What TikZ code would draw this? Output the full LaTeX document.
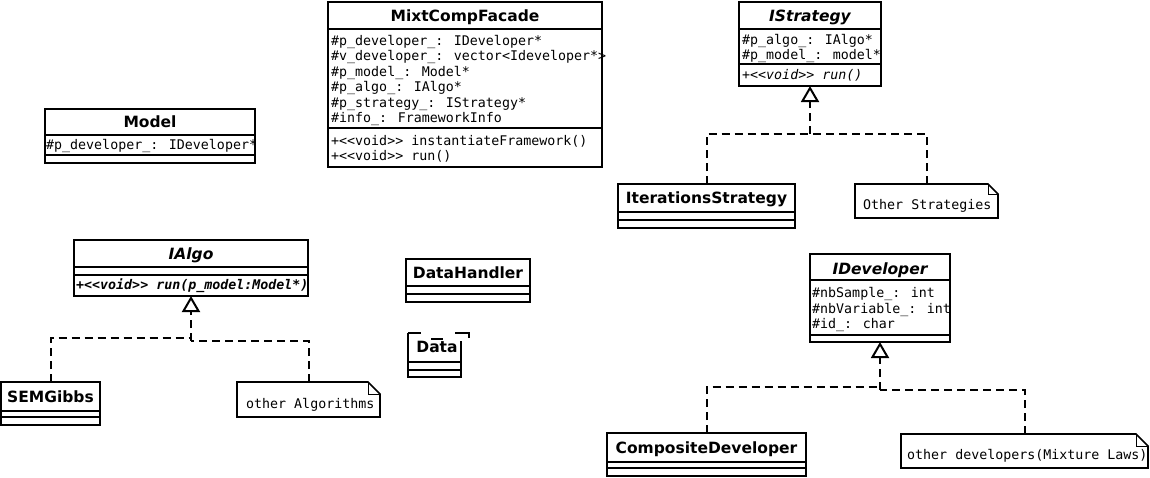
\documentclass[tikz,border=0pt]{standalone}
\usepackage{fontspec}
\usetikzlibrary{arrows.meta,calc}
\newfontfamily\headfam{DejaVu Sans}
\newfontfamily\codefam{DejaVu Sans Mono}
% stereotype brackets, kept apart so no guillemet mapping applies
\newcommand\stlt{<\kern0pt<}
\newcommand\stgt{>\kern0pt>}
% horizontal compartment line across a class frame
\newcommand\compsep[2]{\draw[sep] (#1.west |- 0,#2) -- (#1.east |- 0,#2);}
% UML note outline with a folded corner
\newcommand\notefold[2]{%
  \draw[noteline] (#1.north west) -- ($(#1.north east)+(-#2,0)$) -- ($(#1.north east)+(0,#2)$) -- (#1.south east) -- (#1.south west) -- cycle;
  \draw[foldline] ($(#1.north east)+(-#2,0)$) -- ($(#1.north east)+(-#2,#2)$) -- ($(#1.north east)+(0,#2)$);}
\begin{document}
\begin{tikzpicture}[x=1pt,y=-1pt,
  frame/.style={draw, line width=2pt, inner sep=0pt, outer sep=0pt, anchor=north west},
  holder/.style={inner sep=0pt, outer sep=0pt, anchor=north west},
  sep/.style={line width=2pt},
  noteline/.style={line width=1.7pt},
  foldline/.style={line width=1pt},
  ctitle/.style={font=\headfam\bfseries\fontsize{15.5}{18}\selectfont, inner sep=0pt, anchor=base},
  atitle/.style={font=\headfam\bfseries\itshape\fontsize{15.5}{18}\selectfont, inner sep=0pt, anchor=base},
  member/.style={font=\codefam\fontsize{13.3}{15}\selectfont, inner sep=0pt, anchor=base west},
  realize/.style={line width=2pt, dash pattern=on 8pt off 5pt},
  hollow/.style={-{Triangle[open, length=16pt, width=18pt]}},
]
\useasboundingbox (0,0) rectangle (1150,477);

% ---------- Model ----------
\node[frame, minimum width=210pt, minimum height=54pt] (model) at (45,109) {};
\compsep{model}{135} \compsep{model}{155}
\node[ctitle] (modelT) at (150,127.5) {Model};
\node[member] (modelA) at (46,149.5) {\#p\_developer\_: IDeveloper*};

% ---------- MixtCompFacade ----------
\node[frame, minimum width=274pt, minimum height=165pt] (facade) at (328,2) {};
\compsep{facade}{29} \compsep{facade}{128}
\node[ctitle] (facadeT) at (465,21) {MixtCompFacade};
\node[member] (fa1) at (331,45) {\#p\_developer\_: IDeveloper*};
\node[member] (fa2) at (331,60) {\#v\_developer\_: vector<Ideveloper*>};
\node[member] (fa3) at (331,76) {\#p\_model\_: Model*};
\node[member] (fa4) at (331,91) {\#p\_algo\_: IAlgo*};
\node[member] (fa5) at (331,107) {\#p\_strategy\_: IStrategy*};
\node[member] (fa6) at (331,122) {\#info\_: FrameworkInfo};
\node[member] (fo1) at (331,145) {+\stlt void\stgt{} instantiateFramework()};
\node[member] (fo2) at (331,160) {+\stlt void\stgt{} run()};

% ---------- IStrategy ----------
\node[frame, minimum width=142pt, minimum height=84pt] (istrat) at (739,2) {};
\compsep{istrat}{29} \compsep{istrat}{64}
\node[atitle] (istratT) at (810,21) {IStrategy};
\node[member] (sa1) at (742,44) {\#p\_algo\_: IAlgo*};
\node[member] (sa2) at (742,59) {\#p\_model\_: model*};
\node[member] (so1) at (742,79.5) {+\textit{\stlt void\stgt{} run()}};

% ---------- IterationsStrategy ----------
\node[frame, minimum width=177pt, minimum height=44pt] (iter) at (618,184) {};
\compsep{iter}{212} \compsep{iter}{220}
\node[ctitle] (iterT) at (706.5,203.5) {IterationsStrategy};

% ---------- note: Other Strategies ----------
\node[holder, minimum width=143pt, minimum height=34pt] (nstrat) at (855,184) {};
\notefold{nstrat}{10}
\node[member] (nstratT) at (863,209) {Other Strategies};

% ---------- IAlgo ----------
\node[frame, minimum width=234pt, minimum height=56pt] (ialgo) at (74,240) {};
\compsep{ialgo}{267} \compsep{ialgo}{275}
\node[atitle] (ialgoT) at (191,259) {IAlgo};
\node[member, font=\codefam\bfseries\itshape\fontsize{13.3}{15}\selectfont] (ao1) at (76,289) {+\stlt void\stgt{} run(p\_model:Model*)};

% ---------- SEMGibbs ----------
\node[frame, minimum width=99pt, minimum height=43pt] (sem) at (1,382) {};
\compsep{sem}{411} \compsep{sem}{417}
\node[ctitle] (semT) at (50.5,402) {SEMGibbs};

% ---------- note: other Algorithms ----------
\node[holder, minimum width=143pt, minimum height=35pt] (nalgo) at (237,382) {};
\notefold{nalgo}{12}
\node[member] (nalgoT) at (246,408) {other Algorithms};

% ---------- DataHandler ----------
\node[frame, minimum width=124pt, minimum height=43pt] (dh) at (406,259) {};
\compsep{dh}{286} \compsep{dh}{294}
\node[ctitle] (dhT) at (468,278) {DataHandler};

% ---------- Data (frame with broken top edge) ----------
\node[holder, minimum width=53pt, minimum height=44pt] (data) at (408,333) {};
\draw[sep] (data.north west) -- (data.south west) -- (data.south east) -- (461,341);
\draw[sep] (data.north west) -- (421,333);
\draw[sep] (455,333) -- (469,333) -- (469,338);
\compsep{data}{362} \compsep{data}{370}
\draw[line width=1.5pt] (431,339) -- (443,339);
\node[ctitle] (dataT) at (437,352) {Data};

% ---------- IDeveloper ----------
\node[frame, minimum width=140pt, minimum height=88pt] (idev) at (810,254) {};
\compsep{idev}{280} \compsep{idev}{335}
\node[atitle] (idevT) at (880,274) {IDeveloper};
\node[member] (da1) at (812,297) {\#nbSample\_: int};
\node[member] (da2) at (812,313) {\#nbVariable\_: int};
\node[member] (da3) at (812,328) {\#id\_: char};

% ---------- CompositeDeveloper ----------
\node[frame, minimum width=199pt, minimum height=43pt] (comp) at (607,433) {};
\compsep{comp}{462} \compsep{comp}{468}
\node[ctitle] (compT) at (706.5,453) {CompositeDeveloper};

% ---------- note: other developers ----------
\node[holder, minimum width=247pt, minimum height=34pt] (ndev) at (901,434) {};
\notefold{ndev}{12}
\node[member] (ndevT) at (907,459) {other developers(Mixture Laws)};

% ---------- realizations ----------
\coordinate (jS) at (istrat.south |- 0,134);
\draw[realize] (iter.north) |- (jS);
\draw[realize] (nstrat.north) |- (jS);
\draw[realize, hollow] (jS) -- (istrat.south);

\coordinate (jAl) at (ialgo.south |- 0,338);
\coordinate (jA) at (ialgo.south |- 0,341);
\draw[realize] (sem.north) |- (jAl);
\draw[realize] (nalgo.north) |- (jA);
\draw[realize, hollow] (jA) -- (ialgo.south);

\coordinate (jDl) at (idev.south |- 0,387);
\coordinate (jD) at (idev.south |- 0,390);
\draw[realize] (comp.north) |- (jDl);
\draw[realize] (ndev.north) |- (jD);
\draw[realize, hollow] (jD) -- (idev.south);
\end{tikzpicture}
\end{document}
